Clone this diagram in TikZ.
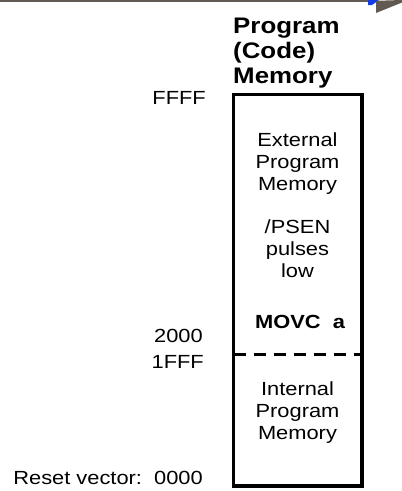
\documentclass[tikz,border=0pt]{standalone}
\usepackage{fontspec}
\setmainfont{Liberation Sans}[FakeStretch=1.15]
\definecolor{decogrey}{RGB}{96,90,82}
\definecolor{decoblue}{RGB}{20,60,230}
\begin{document}
\begin{tikzpicture}[x=1pt,y=-1pt,
  lbl/.style={inner sep=0pt,font=\fontsize{19}{22}\selectfont},
  blocktxt/.style={lbl,align=center,anchor=base},
  title/.style={inner sep=0pt,align=left,anchor=base west,
    font=\fontsize{22.5}{25}\selectfont\bfseries},
  membox/.style={line width=3.2pt},
  divider/.style={line width=3pt,dash pattern=on 12pt off 8pt}]
\useasboundingbox (0,0) rectangle (402,491);

% slide decoration along the top edge
\fill[decogrey] (0,0) rectangle (370,1.8);
\fill[decoblue] (368,5) -- (372,5) -- (379,0) -- (368,0) -- cycle;
\fill[decogrey] (376,0.8) -- (402,0) -- (402,2.5) -- (376,13) -- cycle;

% memory column
\draw[membox] (233.5,94.5) rectangle (362,486);
\coordinate (divL) at (233.5,354.5);
\coordinate (divR) at (362,354.5);
\draw[divider] (divL) -- (divR);

% multi-line nodes are placed by the baseline of their last line
\node[title] (ttl) at (233,83) {Program\\(Code)\\Memory};

% address labels
\node[lbl,anchor=base east] (aFFFF) at (206,104.7) {FFFF};
\node[lbl,anchor=base east] (a2000) at (203,342) {2000};
\node[lbl,anchor=base east] (a1FFF) at (204,368) {1FFF};
\node[lbl,anchor=base east] (a0000) at (203,484) {Reset vector:\ \ 0000};

% region contents
\node[blocktxt] (ext) at (297.5,190) {External\\Program\\Memory};
\node[blocktxt] (psen) at (297.5,277) {/PSEN\\pulses\\low};
\node[blocktxt,font=\fontsize{19}{22}\selectfont\bfseries] (movc) at (300,328) {MOVC\ \ a};
\node[blocktxt] (int) at (297.5,439) {Internal\\Program\\Memory};
\end{tikzpicture}
\end{document}
